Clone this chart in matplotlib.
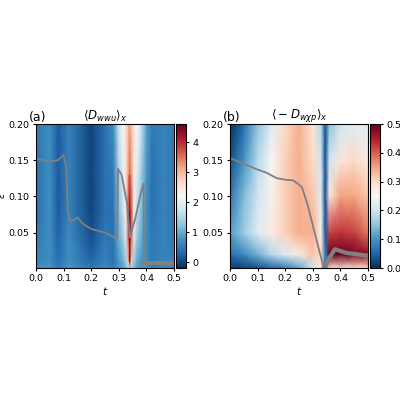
import numpy as np
import matplotlib.pyplot as plt

# panel (a): <D_wwu>_x on a coarse grid
t_a = [0, 0.05, 0.08, 0.12, 0.2, 0.25, 0.28, 0.3, 0.315, 0.325, 0.335, 0.34, 0.345, 0.355, 0.365, 0.38, 0.4, 0.42, 0.46, 0.5]
eps_a = [0.001, 0.01, 0.04, 0.08, 0.13, 0.2]
z_a = [
    [0.7, 0.8, 0.5, 0.8, 0.5, 0.7, 0.5, 0.8, 0.9, 1.1, 1.5, 2.0, 1.5, 1.1, 0.9, 0.8, 0.8, 0.6, 0.7, 0.7],
    [0.6, 0.7, 0.4, 0.7, 0.3, 0.6, 0.4, 0.8, 1.0, 1.3, 2.8, 4.6, 2.8, 1.3, 1.0, 0.8, 0.7, 0.5, 0.6, 0.6],
    [0.5, 0.7, 0.3, 0.7, 0.1, 0.5, 0.4, 1.0, 1.3, 1.8, 3.6, 4.6, 3.6, 1.8, 1.3, 1.0, 0.7, 0.5, 0.6, 0.5],
    [0.4, 0.7, 0.2, 0.6, 0.0, 0.4, 0.4, 1.2, 1.6, 2.3, 3.8, 4.4, 3.8, 2.3, 1.6, 1.2, 0.7, 0.4, 0.6, 0.5],
    [0.4, 0.7, 0.2, 0.6, 0.0, 0.4, 0.5, 1.4, 1.9, 2.5, 3.3, 3.7, 3.3, 2.5, 1.9, 1.4, 0.8, 0.4, 0.6, 0.5],
    [0.5, 0.7, 0.2, 0.6, 0.0, 0.4, 0.7, 1.7, 2.2, 2.6, 2.9, 3.0, 2.9, 2.6, 2.2, 1.7, 0.9, 0.5, 0.6, 0.5],
]
line_a_t = [0, 0.05, 0.08, 0.1, 0.11, 0.115, 0.125, 0.14, 0.15, 0.17, 0.2, 0.25, 0.29, 0.295, 0.297,
            0.31, 0.33, 0.34, 0.36, 0.38, 0.39, 0.391]
line_a_e = [0.152, 0.148, 0.15, 0.157, 0.14, 0.08, 0.065, 0.068, 0.071, 0.062, 0.055, 0.05, 0.042, 0.042,
            0.138, 0.13, 0.09, 0.043, 0.07, 0.105, 0.118, 0.01]
tail_a_t = [0.391, 0.42, 0.46, 0.5]
tail_a_e = [0.008, 0.008, 0.008, 0.008]

# panel (b): <-D_wxp>_x
t_b = [0, 0.05, 0.1, 0.15, 0.2, 0.25, 0.3, 0.33, 0.345, 0.36, 0.4, 0.45, 0.5]
eps_b = [0.001, 0.02, 0.05, 0.1, 0.15, 0.2]
z_b = [
    [0.01, 0.02, 0.03, 0.05, 0.08, 0.12, 0.2, 0.28, 0.05, 0.3, 0.3, 0.3, 0.3],
    [0.06, 0.09, 0.13, 0.18, 0.22, 0.27, 0.32, 0.3, 0.08, 0.5, 0.5, 0.49, 0.47],
    [0.11, 0.16, 0.22, 0.27, 0.31, 0.34, 0.34, 0.26, 0.04, 0.42, 0.43, 0.42, 0.38],
    [0.07, 0.14, 0.2, 0.26, 0.31, 0.34, 0.32, 0.22, 0.03, 0.28, 0.35, 0.35, 0.32],
    [0.03, 0.1, 0.18, 0.25, 0.31, 0.34, 0.3, 0.2, 0.03, 0.2, 0.28, 0.3, 0.27],
    [0.0, 0.06, 0.15, 0.22, 0.3, 0.34, 0.28, 0.18, 0.03, 0.15, 0.2, 0.22, 0.22],
]
line_b_t = [0, 0.05, 0.1, 0.13, 0.17, 0.2, 0.23, 0.26, 0.28, 0.3, 0.32, 0.34]
line_b_e = [0.153, 0.145, 0.137, 0.133, 0.125, 0.123, 0.122, 0.113, 0.09, 0.06, 0.03, 0.0]
tail_b_t = [0.34, 0.36, 0.38, 0.42, 0.5]
tail_b_e = [0.0, 0.015, 0.027, 0.022, 0.018]

fig = plt.figure(figsize=(4, 4), dpi=100)
ax1 = fig.add_axes([0.09, 0.33, 0.345, 0.36])
cax1 = fig.add_axes([0.44, 0.33, 0.025, 0.36])
ax2 = fig.add_axes([0.575, 0.33, 0.345, 0.36])
cax2 = fig.add_axes([0.925, 0.33, 0.025, 0.36])

fs = 6.8
m1 = ax1.pcolormesh(t_a, eps_a, z_a, cmap='RdBu_r', shading='gouraud', vmin=-0.2, vmax=4.6)
ax1.plot(line_a_t, line_a_e, color='gray', lw=1.3)
ax1.plot(tail_a_t, tail_a_e, color='gray', lw=3)
cb1 = fig.colorbar(m1, cax=cax1, ticks=[0, 1, 2, 3, 4])
ax1.set_title(r'$\langle D_{wwu}\rangle_x$', fontsize=8.5, pad=3)
ax1.text(-0.05, 1.02, '(a)', transform=ax1.transAxes, fontsize=9)
ax1.set_ylabel(r'$\epsilon$', fontsize=7, labelpad=1)

m2 = ax2.pcolormesh(t_b, eps_b, z_b, cmap='RdBu_r', shading='gouraud', vmin=0, vmax=0.5)
ax2.plot(line_b_t, line_b_e, color='gray', lw=1.3)
ax2.plot(tail_b_t, tail_b_e, color='gray', lw=3)
cb2 = fig.colorbar(m2, cax=cax2, ticks=[0, 0.1, 0.2, 0.3, 0.4, 0.5])
ax2.set_title(r'$\langle -D_{w\chi p}\rangle_x$', fontsize=8.5, pad=3)
ax2.text(-0.05, 1.02, '(b)', transform=ax2.transAxes, fontsize=9)

for ax in (ax1, ax2):
    ax.set_xlim(0, 0.5)
    ax.set_ylim(0.001, 0.2)
    ax.set_xticks([0, 0.1, 0.2, 0.3, 0.4, 0.5])
    ax.set_yticks([0.05, 0.1, 0.15, 0.2])
    ax.set_xlabel(r'$t$', fontsize=7.5, labelpad=1)
    ax.tick_params(labelsize=fs, length=2.5, pad=2)
for c in (cb1, cb2):
    c.ax.tick_params(labelsize=fs, length=2.5, pad=2)

fig.savefig('out.png')
